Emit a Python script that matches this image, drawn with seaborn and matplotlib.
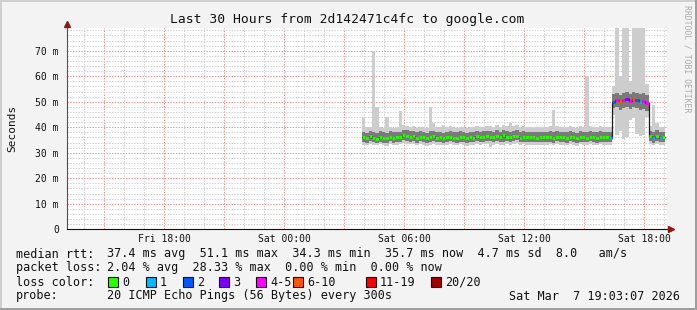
import numpy as np
import pandas as pd
import matplotlib
matplotlib.use("Agg")
import matplotlib.pyplot as plt
from matplotlib.patches import Rectangle
from matplotlib.ticker import MultipleLocator
import seaborn as sns

W, H = 697, 310
sns.set_style("white")
plt.rcParams['font.family'] = ['DejaVu Sans Mono', 'DejaVu Sans']

# ---------------- data (hours relative to Sat 00:00, 10-minute samples) ----------------
start_h = 3.9
step_h = 1.0 / 6.0

median = [
    36.0, 35.6, 36.4, 35.8, 35.5, 36.2, 35.9, 35.7, 36.3, 35.8, 36.0, 36.1,
    36.9, 36.6, 36.2, 36.5, 35.8, 36.3, 36.0, 35.6, 36.2, 36.4, 35.9, 36.1,
    35.7, 36.0, 36.3, 35.9, 35.8, 36.2, 36.0, 35.6, 36.1, 35.9, 36.4, 36.0,
    36.2, 36.5, 36.3, 36.0, 36.6, 36.1, 36.8, 36.3, 36.0, 36.4, 36.7, 35.9,
    36.2, 36.0, 36.1, 36.0, 35.9, 36.0, 36.1, 36.0, 36.2, 35.8, 36.3, 36.0,
    36.1, 35.8, 36.3, 36.0, 35.7, 36.2, 36.0, 35.9, 36.3, 36.1, 35.8, 36.2, 36.0, 36.1, 35.9,
    50.0, 50.6, 50.2, 50.8, 51.0, 50.4, 51.2, 50.6, 50.1, 50.3, 49.5,
    36.4, 35.8, 36.6, 35.9, 36.0,
]
p10 = [
    34.2, 33.9, 34.6, 34.1, 33.8, 34.4, 34.0, 33.9, 34.5, 34.0, 34.2, 34.3,
    34.9, 34.7, 34.4, 34.6, 34.0, 34.5, 34.2, 33.8, 34.3, 34.6, 34.1, 34.3,
    33.9, 34.2, 34.5, 34.1, 34.0, 34.4, 34.2, 33.8, 34.3, 34.1, 34.6, 34.2,
    34.4, 34.6, 34.5, 34.2, 34.8, 34.3, 34.2, 34.5, 34.2, 34.6, 34.9, 34.1,
    34.4, 34.2, 34.3, 34.2, 34.1, 34.2, 34.3, 34.2, 34.4, 34.0, 34.5, 34.2,
    34.3, 34.0, 34.5, 34.2, 33.9, 34.4, 34.2, 34.1, 34.5, 34.3, 34.0, 34.4, 34.2, 34.3, 34.1,
    47.5, 47.8, 46.9, 47.6, 48.0, 47.2, 47.9, 47.4, 46.8, 47.1, 46.5,
    34.5, 34.0, 34.7, 34.1, 34.2,
]
p90 = [
    38.2, 37.9, 38.6, 38.0, 37.8, 38.4, 38.1, 37.9, 38.5, 38.0, 38.2, 38.3,
    39.0, 38.8, 38.4, 38.7, 38.0, 38.5, 38.2, 37.8, 38.6, 38.6, 38.1, 38.3,
    37.9, 38.2, 38.5, 38.1, 38.0, 38.4, 38.2, 37.8, 38.3, 38.1, 38.6, 38.2,
    38.4, 38.7, 38.5, 38.2, 38.8, 38.3, 38.9, 38.5, 38.2, 38.6, 38.9, 38.1,
    38.4, 38.2, 38.3, 38.2, 38.1, 38.2, 38.3, 38.2, 38.4, 38.0, 38.5, 38.2,
    38.3, 38.0, 38.5, 38.2, 37.9, 38.4, 38.2, 38.1, 38.5, 38.3, 38.0, 38.4, 38.2, 38.3, 38.1,
    53.0, 53.5, 52.8, 53.6, 54.0, 53.2, 53.8, 53.4, 52.9, 53.3, 52.6,
    38.6, 38.0, 38.8, 38.1, 38.2,
]
pmin = [
    33.2, 33.0, 33.5, 33.1, 32.9, 33.3, 33.0, 32.8, 33.4, 33.0, 33.2, 33.3,
    33.8, 33.6, 33.3, 33.5, 33.0, 33.4, 33.1, 32.8, 33.2, 33.5, 33.0, 33.2,
    32.9, 33.1, 33.4, 33.0, 32.9, 33.3, 33.1, 32.8, 33.2, 33.0, 33.5, 33.1,
    33.3, 33.5, 32.4, 33.1, 33.6, 33.2, 33.0, 33.4, 33.1, 33.5, 33.7, 33.0,
    33.3, 33.1, 33.2, 33.1, 33.0, 33.1, 33.2, 33.1, 33.3, 32.9, 33.4, 33.1,
    33.2, 32.9, 33.4, 33.1, 32.8, 33.3, 33.1, 33.0, 33.4, 33.2, 32.9, 33.3, 33.1, 33.2, 33.0,
    45.0, 37.0, 38.5, 35.5, 36.0, 43.0, 43.5, 37.5, 36.5, 37.0, 44.0,
    33.4, 32.9, 33.6, 33.0, 33.1,
]
pmax = [
    43.5, 40.0, 40.2, 70.0, 48.0, 40.1, 39.8, 44.0, 40.3, 39.9, 40.1, 46.5,
    41.0, 40.6, 40.2, 40.5, 39.9, 40.3, 40.1, 39.7, 48.0, 41.5, 40.0, 40.2,
    41.0, 40.1, 40.4, 40.0, 39.9, 40.3, 40.1, 39.7, 40.2, 40.0, 40.5, 40.1,
    40.3, 40.6, 40.5, 40.2, 40.8, 40.3, 40.9, 40.5, 41.5, 40.6, 40.9, 40.1,
    40.4, 40.2, 40.3, 40.2, 40.1, 40.2, 40.3, 40.2, 40.4, 46.8, 40.5, 40.2,
    40.3, 40.0, 40.5, 40.2, 39.9, 40.4, 40.2, 60.0, 40.5, 40.3, 40.0, 40.4, 40.2, 40.3, 40.1,
    56.0, 82.0, 60.0, 82.0, 82.0, 58.0, 82.0, 82.0, 82.0, 82.0, 57.0,
    40.6, 48.7, 41.5, 40.0, 40.2,
]
loss_idx = [0] * 74 + [1] + [2, 4, 5, 4, 3, 4, 5, 2, 1, 4, 4] + [0, 1, 0, 1, 0]

loss_labels = ['0', '1', '2', '3', '4-5', '6-10', '11-19', '20/20']
loss_colors = ['#26ff00', '#00b8ff', '#0059ff', '#7e00ff', '#ff00ff', '#ff5500', '#ff0000', '#a00000']

x_tick_hours = [-6, 0, 6, 12, 18]
x_tick_labels = ['Fri 18:00', 'Sat 00:00', 'Sat 06:00', 'Sat 12:00', 'Sat 18:00']
y_tick_values = [0, 10, 20, 30, 40, 50, 60, 70]

title = "Last 30 Hours from 2d142471c4fc to google.com"
rtt_stats = "37.4 ms avg  51.1 ms max  34.3 ms min  35.7 ms now  4.7 ms sd  8.0   am/s"
loss_stats = "2.04 % avg  28.33 % max  0.00 % min  0.00 % now"
probe_text = "20 ICMP Echo Pings (56 Bytes) every 300s"
stamp_text = "Sat Mar  7 19:03:07 2026"

# ---------------- build frame ----------------
n = len(median)
t_edges = start_h + step_h * np.arange(n + 1)
df = pd.DataFrame({'t': t_edges[:-1], 'median': median, 'p10': p10, 'p90': p90,
                   'pmin': pmin, 'pmax': pmax, 'loss': loss_idx})
ext = lambda col: np.append(df[col].values, df[col].values[-1])
df_line = pd.DataFrame({'t': t_edges, 'median': ext('median')})

fig = plt.figure(figsize=(W / 100, H / 100), dpi=100)
fig.patch.set_facecolor('#f3f3f3')

ax_left, ax_top, ax_bottom = 67, 27.8, 229.3
ax = fig.add_axes([ax_left / W, 1 - ax_bottom / H, 600 / W, (ax_bottom - ax_top) / H])
ax.set_facecolor('white')
xmin, xmax = -10.85, 19.15
ax.set_xlim(xmin, xmax)
ax.set_ylim(0, 79)

# grid
ax.set_axisbelow(True)
ax.xaxis.set_major_locator(MultipleLocator(3))
ax.xaxis.set_minor_locator(MultipleLocator(1))
ax.yaxis.set_major_locator(MultipleLocator(10))
ax.yaxis.set_minor_locator(MultipleLocator(2))
ax.grid(which='minor', color='#cfcfcf', linestyle=(0, (1.39, 1.39)), linewidth=0.72)
ax.grid(which='major', color='#f49090', linestyle=(0, (1.39, 1.39)), linewidth=0.72)

# smoke
ax.fill_between(t_edges, ext('pmin'), ext('pmax'), step='post', color='#cdcdcd', lw=0)
ax.fill_between(t_edges, ext('p10'), ext('p90'), step='post', color='#7a7a7a', lw=0)

# median line (black), then loss colored segments
sns.lineplot(data=df_line, x='t', y='median', estimator=None, drawstyle='steps-post',
             color='#1a1a1a', lw=0.9, ax=ax, legend=False)
ax.hlines(df['median'], t_edges[:-1], t_edges[1:],
          colors=[loss_colors[k] for k in df['loss']], lw=2.0, zorder=6)

# ticks and labels
major_x = ax.get_xticks()
ax.set_xticks(major_x)
ax.set_xticklabels([x_tick_labels[x_tick_hours.index(int(round(v)))] if int(round(v)) in x_tick_hours else ''
                    for v in major_x])
ax.set_yticks(y_tick_values)
ax.set_yticklabels([f"{v} m" if v else "0" for v in y_tick_values])
ax.set_xlim(xmin, xmax)
ax.set_ylim(0, 79)
ax.tick_params(axis='both', which='both', direction='out', color='#404040', width=0.7,
               labelsize=7, labelcolor='#111111')
ax.tick_params(axis='both', which='major', length=2.2)
ax.tick_params(axis='both', which='minor', length=1.5)
ax.tick_params(axis='y', which='major', pad=3.6)
ax.tick_params(axis='x', which='major', pad=1.5)
ax.set_xlabel('')
ax.set_ylabel('')

for s in ['top', 'right']:
    ax.spines[s].set_visible(False)
ax.spines['left'].set_color('#505050')
ax.spines['bottom'].set_color('#101010')
ax.spines['left'].set_linewidth(0.8)
ax.spines['bottom'].set_linewidth(0.8)

# arrows
ax.plot([xmin], [80.5], marker='^', color='#8b1a1a', ms=4.5, clip_on=False, zorder=10)
ax.plot([xmax + 0.2], [0], marker='>', color='#8b1a1a', ms=4.5, clip_on=False, zorder=10)


def ftext(x, y, s, **kw):
    kw.setdefault('va', 'center')
    kw.setdefault('fontsize', 8.5)
    kw.setdefault('color', '#111111')
    fig.text(x / W, 1 - y / H, s, **kw)


ftext(347, 19, title, ha='center', fontsize=9.4)
ftext(12, 128, "Seconds", ha='center', rotation=90, fontsize=8)
ftext(687.5, 59, "RRDTOOL / TOBI OETIKER", ha='center', rotation=270, fontsize=5.9, color='#aaaaaa')

ftext(16, 254, "median rtt:")
ftext(107, 254, rtt_stats)
ftext(16, 268, "packet loss:")
ftext(107, 268, loss_stats)
ftext(16, 282, "loss color:")
box_x = [108, 146, 183, 219, 256, 293, 366, 431]
for bx, lab, col in zip(box_x, loss_labels, loss_colors):
    fig.add_artist(Rectangle((bx / W, 1 - 287 / H), 10 / W, 10 / H, transform=fig.transFigure,
                             facecolor=col, edgecolor='#111111', lw=0.8))
    ftext(bx + 14, 282, lab)
ftext(16, 296, "probe:")
ftext(107, 296, probe_text)
ftext(680, 296, stamp_text, ha='right')

# 3D frame
fig.add_artist(Rectangle((0, 1 - 2 / H), 1, 2 / H, transform=fig.transFigure, color='#cfcfcf', lw=0))
fig.add_artist(Rectangle((0, 0), 2 / W, 1, transform=fig.transFigure, color='#cfcfcf', lw=0))
fig.add_artist(Rectangle((0, 0), 1, 2 / H, transform=fig.transFigure, color='#9e9e9e', lw=0))
fig.add_artist(Rectangle((1 - 2 / W, 0), 2 / W, 1, transform=fig.transFigure, color='#9e9e9e', lw=0))

fig.savefig('out.png', dpi=100, facecolor=fig.get_facecolor())
